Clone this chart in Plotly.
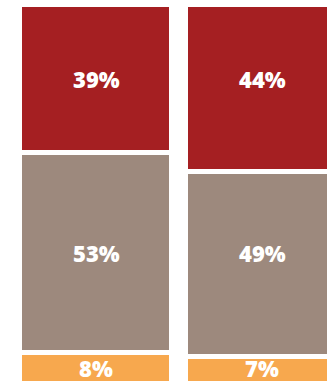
import plotly.graph_objects as go

categories = ["A", "B"]
bottom_vals = [8, 7]
middle_vals = [53, 49]
top_vals = [39, 44]

colors = {"bottom": "#F7A84E", "middle": "#9D897D", "top": "#A51F22"}

fig = go.Figure()
for name, vals in [("bottom", bottom_vals), ("middle", middle_vals), ("top", top_vals)]:
    fig.add_trace(go.Bar(
        x=[0, 1], y=vals,
        marker=dict(color=colors[name], line=dict(color="white", width=5)),
        width=0.915,
        hoverinfo="skip",
    ))

# labels: aligned on the left column's segment centres
ref_centres = [bottom_vals[0] / 2,
               bottom_vals[0] + middle_vals[0] / 2,
               bottom_vals[0] + middle_vals[0] + top_vals[0] / 2]
for i in range(2):
    for vals, yc in zip([bottom_vals, middle_vals, top_vals], ref_centres):
        fig.add_annotation(
            x=i, y=yc, text=f"{vals[i]}%", showarrow=False,
            xanchor="center", yanchor="middle",
            font=dict(family="Open Sans", size=22, color="white", weight=800),
        )

W, H = 327, 384
x0 = 96.0
scale = 166.0
fig.update_layout(
    barmode="stack",
    width=W, height=H,
    margin=dict(l=0, r=0, t=5, b=0, pad=0),
    paper_bgcolor="white", plot_bgcolor="white",
    showlegend=False,
    bargap=0,
    xaxis=dict(range=[-x0 / scale, (W - x0) / scale], visible=False, fixedrange=True),
    yaxis=dict(range=[-0.13, 100], visible=False, fixedrange=True),
)
fig.write_html("out.html", config={"displayModeBar": False})
